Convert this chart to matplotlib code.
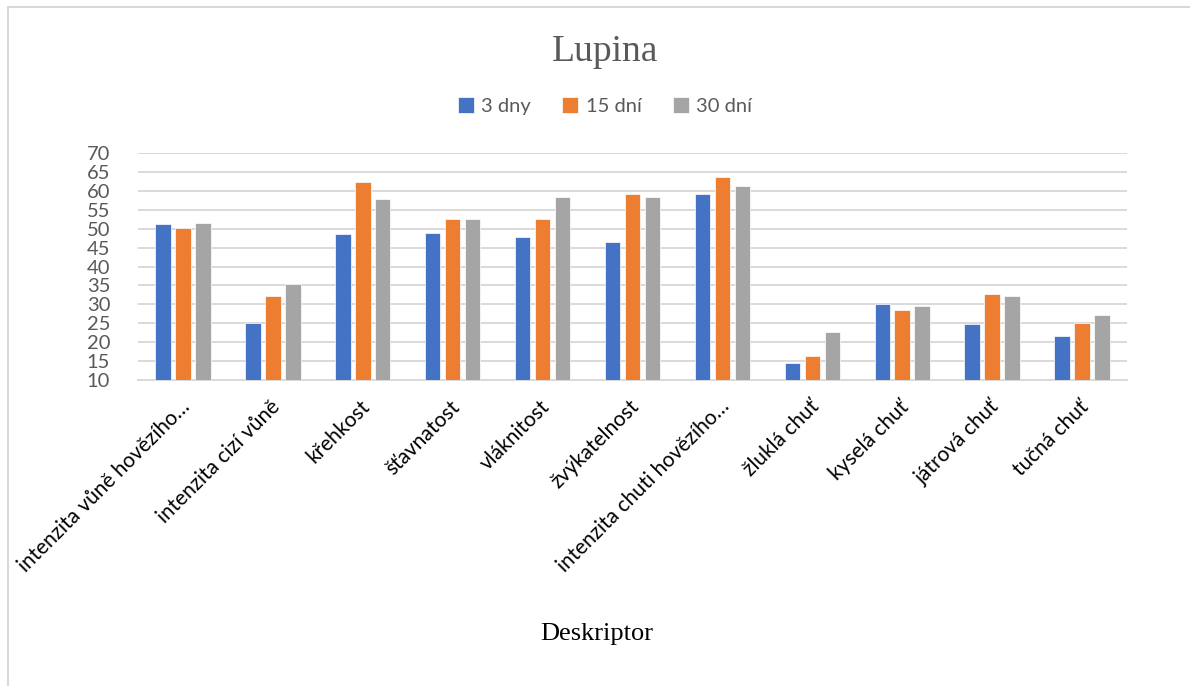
import matplotlib.pyplot as plt
import matplotlib.transforms as mtransforms
import numpy as np
from matplotlib.patches import Rectangle

# Senzorické hodnocení - Lupina
categories = ["intenzita vůně hovězího…", "intenzita cizí vůně", "křehkost",
              "šťavnatost", "vláknitost", "žvýkatelnost",
              "intenzita chuti hovězího…", "žluklá chuť", "kyselá chuť",
              "játrová chuť", "tučná chuť"]
series_names = ["3 dny", "15 dní", "30 dní"]
dny_3 = [51.2, 25.1, 48.5, 48.8, 47.9, 46.4, 59.1, 14.4, 30.0, 24.9, 21.7]
dni_15 = [50.3, 32.3, 62.3, 52.6, 52.6, 59.1, 63.6, 16.3, 28.5, 32.8, 25.1]
dni_30 = [51.6, 35.4, 57.9, 52.6, 58.4, 58.3, 61.2, 22.7, 29.5, 32.3, 27.3]
yticks = list(range(10, 75, 5))

colors = ["#4472C4", "#ED7D31", "#A5A5A5"]
sans = ["Lato", "DejaVu Sans"]
serif = ["Liberation Serif", "DejaVu Serif"]

W, H = 1190, 686
fig = plt.figure(figsize=(W / 100, H / 100), dpi=100)

# light frame around the chart area
fig.patches.append(Rectangle((8 / W, -0.1), 1.2, 1 - 7 / H + 0.1, transform=fig.transFigure,
                             fill=False, edgecolor="#D9D9D9", linewidth=1.5))

ax = fig.add_axes([138 / W, (H - 380) / H, (1127 - 138) / W, (380 - 153) / H])

x = np.arange(len(categories))
step = 0.222
width = 0.172
for i, (vals, name) in enumerate(zip([dny_3, dni_15, dni_30], series_names)):
    ax.bar(x + (i - 1) * step, vals, width, color=colors[i], edgecolor="white",
           linewidth=0.5, label=name, zorder=3)

ax.set_xlim(-0.5, len(categories) - 0.5)
ax.set_ylim(10, 70)
ax.set_yticks(yticks)
ax.yaxis.grid(True, color="#D9D9D9", linewidth=1.4, zorder=0)
for s in ["top", "right", "left"]:
    ax.spines[s].set_visible(False)
ax.spines["bottom"].set_color("#D9D9D9")
ax.spines["bottom"].set_linewidth(1.4)
ax.tick_params(axis="both", length=0)
ax.tick_params(axis="y", pad=20)

for lbl in ax.get_yticklabels():
    lbl.set_family(sans)
    lbl.set_fontsize(14.5)
    lbl.set_color("#595959")

ax.set_xticks(x)
ax.set_xticklabels(categories, rotation=45, ha="right", va="center",
                   rotation_mode="anchor", family=sans, fontsize=15, color="black")
ax.tick_params(axis="x", pad=17)
# nudge the slanted labels a little to the right
shift = mtransforms.ScaledTranslation(4 / 100, 0, fig.dpi_scale_trans)
for lbl in ax.get_xticklabels():
    lbl.set_transform(lbl.get_transform() + shift)

fig.text(605 / W, 1 - 52 / H, "Lupina", ha="center", va="center", family=serif,
         fontsize=27, color="#595959")
fig.text(597 / W, 1 - 634 / H, "Deskriptor", ha="center", va="center", family=serif,
         fontsize=19, color="black")

leg = fig.legend(loc="center", bbox_to_anchor=(605 / W, 1 - 106 / H), ncol=3, frameon=False,
                 prop={"family": sans, "size": 14.5}, handlelength=0.8, handleheight=0.8,
                 handletextpad=0.35, columnspacing=1.55)
for t in leg.get_texts():
    t.set_color("#595959")

fig.savefig("out.png", dpi=100, facecolor="white")
